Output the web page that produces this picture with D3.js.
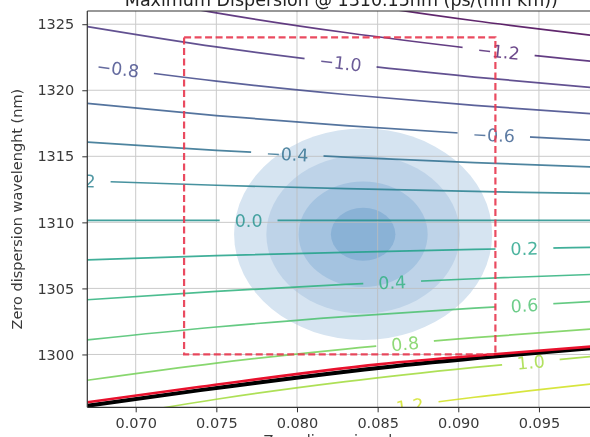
<!DOCTYPE html>
<html>
<head>
<meta charset="utf-8">
<script src="https://d3js.org/d3.v7.min.js"></script>
<style>
body { margin: 0; background: #fff; }
svg { display: block; font-family: "DejaVu Sans", sans-serif; }
.tick text { font-size: 14.5px; fill: #3a3a3a; }
.tick line { stroke: #333; }
</style>
</head>
<body>
<div id="chart"></div>
<script>
// slope values (x) at which each contour is read
var slopeSamples = [0.067, 0.075, 0.083, 0.091, 0.099];
// contour levels of max dispersion (ps/(nm km))
var levels = [-1.4, -1.2, -1.0, -0.8, -0.6, -0.4, -0.2, 0.0, 0.2, 0.4, 0.6, 0.8, 1.0, 1.2];
// zero dispersion wavelength of each level at slopeSamples
var levelLambda0 = [
  [1330.55, 1328.42, 1326.69, 1325.26, 1324.06],
  [1327.69, 1325.86, 1324.37, 1323.14, 1322.10],
  [1324.82, 1323.28, 1322.03, 1321.00, 1320.13],
  [1321.93, 1320.69, 1319.68, 1318.85, 1318.16],
  [1319.01, 1318.08, 1317.32, 1316.69, 1316.17],
  [1316.08, 1315.45, 1314.94, 1314.52, 1314.17],
  [1313.13, 1312.81, 1312.55, 1312.34, 1312.17],
  [1310.15, 1310.15, 1310.15, 1310.15, 1310.15],
  [1307.16, 1307.48, 1307.73, 1307.95, 1308.13],
  [1304.14, 1304.78, 1305.30, 1305.73, 1306.09],
  [1301.10, 1302.08, 1302.86, 1303.51, 1304.05],
  [1298.05, 1299.35, 1300.41, 1301.27, 1301.99],
  [1294.97, 1296.61, 1297.94, 1299.02, 1299.93],
  [1291.87, 1293.86, 1295.45, 1296.76, 1297.86]
];
// where the inline labels sit (slope), null = no label
var labelSlopes = [null, 0.0925, 0.0827, 0.0689, 0.0922, 0.0794, 0.0662, 0.0770, 0.0941, 0.0859, 0.0941, 0.0867, 0.0945, 0.0870];

// red / black limit curves
var limitSlopes = [0.067, 0.074, 0.0852, 0.0924, 0.0982, 0.099];
var redLambda0 = [1296.38, 1297.55, 1299.27, 1300.03, 1300.59, 1300.66];
var blackLambda0 = [1296.12, 1297.30, 1299.00, 1299.86, 1300.47, 1300.55];

// spec box
var boxSlope = [0.073, 0.0923];
var boxLambda0 = [1300, 1324];

// fiber distribution blob
var centerSlope = 0.0841, centerLambda0 = 1309.1;
var sigmaSlope = 0.002, sigmaLambda0 = 2.0;
var blobSigmas = [4, 3, 2, 1];
var blobColors = ["#d6e4f1", "#bed3e8", "#a4c3e0", "#8ab2d6"];

var xTicks = [0.070, 0.075, 0.080, 0.085, 0.090, 0.095];
var yTicks = [1300, 1305, 1310, 1315, 1320, 1325];

var W = 590, H = 437;
var x = d3.scaleLinear().domain([0.067, 0.0985]).range([87.3, 595.4]);
var y = d3.scaleLinear().domain([1296, 1326]).range([407.3, 11]);
var color = d3.scaleSequential(d3.interpolateViridis).domain([-1.4, 1.4]);

var svg = d3.select("#chart").append("svg").attr("width", W).attr("height", H);
var defs = svg.append("defs");
defs.append("clipPath").attr("id", "plot-clip").append("rect")
    .attr("x", x.range()[0]).attr("y", y.range()[1])
    .attr("width", x.range()[1] - x.range()[0])
    .attr("height", y.range()[0] - y.range()[1]);

var mask = defs.append("mask").attr("id", "label-gaps")
    .attr("maskUnits", "userSpaceOnUse")
    .attr("x", 0).attr("y", 0).attr("width", W).attr("height", H);
mask.append("rect").attr("width", W).attr("height", H).attr("fill", "white");

var plot = svg.append("g").attr("clip-path", "url(#plot-clip)");

// blob
plot.append("g").selectAll("ellipse")
    .data(blobSigmas)
    .join("ellipse")
    .attr("cx", x(centerSlope))
    .attr("cy", y(centerLambda0))
    .attr("rx", function(k) { return x(centerSlope + k * sigmaSlope) - x(centerSlope); })
    .attr("ry", function(k) { return y(centerLambda0) - y(centerLambda0 + k * sigmaLambda0); })
    .attr("fill", function(k, i) { return blobColors[i]; });

// grid
var grid = plot.append("g").attr("stroke", "#bdbdbd").attr("stroke-width", 1).attr("opacity", 0.8);
grid.selectAll(".gx").data(xTicks).join("line").attr("class", "gx")
    .attr("x1", function(d) { return x(d); }).attr("x2", function(d) { return x(d); })
    .attr("y1", y.range()[0]).attr("y2", y.range()[1]);
grid.selectAll(".gy").data(yTicks).join("line").attr("class", "gy")
    .attr("y1", function(d) { return y(d); }).attr("y2", function(d) { return y(d); })
    .attr("x1", x.range()[0]).attr("x2", x.range()[1]);

// contour lines
var line = d3.line()
    .x(function(d) { return x(d[0]); })
    .y(function(d) { return y(d[1]); })
    .curve(d3.curveMonotoneX);

plot.append("g").attr("mask", "url(#label-gaps)")
    .selectAll("path")
    .data(levels)
    .join("path")
    .attr("d", function(d, i) {
        return line(slopeSamples.map(function(s, j) { return [s, levelLambda0[i][j]]; }));
    })
    .attr("fill", "none")
    .attr("stroke", function(d) { return color(d); })
    .attr("stroke-opacity", 0.85)
    .attr("stroke-width", 1.7);

// inline labels
var fmt = function(v) { return (v < 0 ? "\u2212" : "") + Math.abs(v).toFixed(1); };
var labelG = plot.append("g").attr("opacity", 0.8);
levels.forEach(function(lv, i) {
    if (labelSlopes[i] == null) return;
    var interp = d3.scaleLinear().domain(slopeSamples).range(levelLambda0[i]);
    var s = labelSlopes[i];
    var px = x(s), py = y(interp(s));
    var dx = x(s + 0.001) - x(s - 0.001);
    var dy = y(interp(s + 0.001)) - y(interp(s - 0.001));
    var ang = Math.atan2(dy, dx) * 180 / Math.PI;
    var tr = "translate(" + px + "," + py + ") rotate(" + ang + ")";
    var t = labelG.append("text")
        .attr("transform", tr)
        .attr("text-anchor", "middle")
        .attr("dy", "0.36em")
        .attr("font-size", 17.5)
        .attr("fill", color(lv))
        .text(fmt(lv));
    var w = t.node().getComputedTextLength();
    mask.append("rect").attr("transform", tr)
        .attr("x", -w / 2 - 15).attr("y", -10)
        .attr("width", w + 30).attr("height", 20)
        .attr("fill", "black");
});

// limit curves
var limitLine = d3.line()
    .x(function(d) { return x(d[0]); })
    .y(function(d) { return y(d[1]); })
    .curve(d3.curveMonotoneX);
plot.append("path")
    .attr("d", limitLine(limitSlopes.map(function(s, j) { return [s, blackLambda0[j]]; })))
    .attr("fill", "none").attr("stroke", "#000").attr("stroke-width", 4);
plot.append("path")
    .attr("d", limitLine(limitSlopes.map(function(s, j) { return [s, redLambda0[j]]; })))
    .attr("fill", "none").attr("stroke", "#e8112d").attr("stroke-width", 2.6);

// spec box
svg.append("rect")
    .attr("x", x(boxSlope[0])).attr("y", y(boxLambda0[1]))
    .attr("width", x(boxSlope[1]) - x(boxSlope[0]))
    .attr("height", y(boxLambda0[0]) - y(boxLambda0[1]))
    .attr("fill", "none")
    .attr("stroke", "#e8374f")
    .attr("stroke-opacity", 0.9)
    .attr("stroke-width", 2.2)
    .attr("stroke-dasharray", "7,3.5");

// spines
var spines = svg.append("g").attr("stroke", "#333").attr("stroke-width", 1.2);
spines.append("line").attr("x1", x.range()[0]).attr("x2", x.range()[0]).attr("y1", y.range()[0]).attr("y2", y.range()[1]);
spines.append("line").attr("x1", x.range()[0]).attr("x2", x.range()[1]).attr("y1", y.range()[1]).attr("y2", y.range()[1]);
spines.append("line").attr("x1", x.range()[0]).attr("x2", x.range()[1]).attr("y1", y.range()[0]).attr("y2", y.range()[0]);

// axes
svg.append("g")
    .attr("transform", "translate(0," + y.range()[0] + ")")
    .call(d3.axisBottom(x).tickValues(xTicks).tickFormat(d3.format(".3f")).tickSize(5).tickPadding(5))
    .call(function(g) { g.select(".domain").remove(); })
    .selectAll("text").attr("font-family", "DejaVu Sans");
svg.append("g")
    .attr("transform", "translate(" + x.range()[0] + ",0)")
    .call(d3.axisLeft(y).tickValues(yTicks).tickFormat(d3.format("d")).tickSize(5).tickPadding(8))
    .call(function(g) { g.select(".domain").remove(); })
    .selectAll("text").attr("font-family", "DejaVu Sans");

// texts (title and x label are cropped by the frame, as in the source image)
var midX = (x.range()[0] + x.range()[1]) / 2;
svg.append("text")
    .attr("x", midX).attr("y", 6)
    .attr("text-anchor", "middle")
    .attr("font-size", 17.5).attr("fill", "#222")
    .text("Maximum Dispersion @ 1310.15nm (ps/(nm km))");
svg.append("text")
    .attr("transform", "translate(22," + (y.range()[0] + y.range()[1]) / 2 + ") rotate(-90)")
    .attr("text-anchor", "middle")
    .attr("font-size", 14.5).attr("fill", "#3a3a3a")
    .text("Zero dispersion wavelenght (nm)");
svg.append("text")
    .attr("x", midX).attr("y", 445)
    .attr("text-anchor", "middle")
    .attr("font-size", 14.5).attr("fill", "#3a3a3a")
    .text("Zero dispersion slope");
</script>
</body>
</html>
